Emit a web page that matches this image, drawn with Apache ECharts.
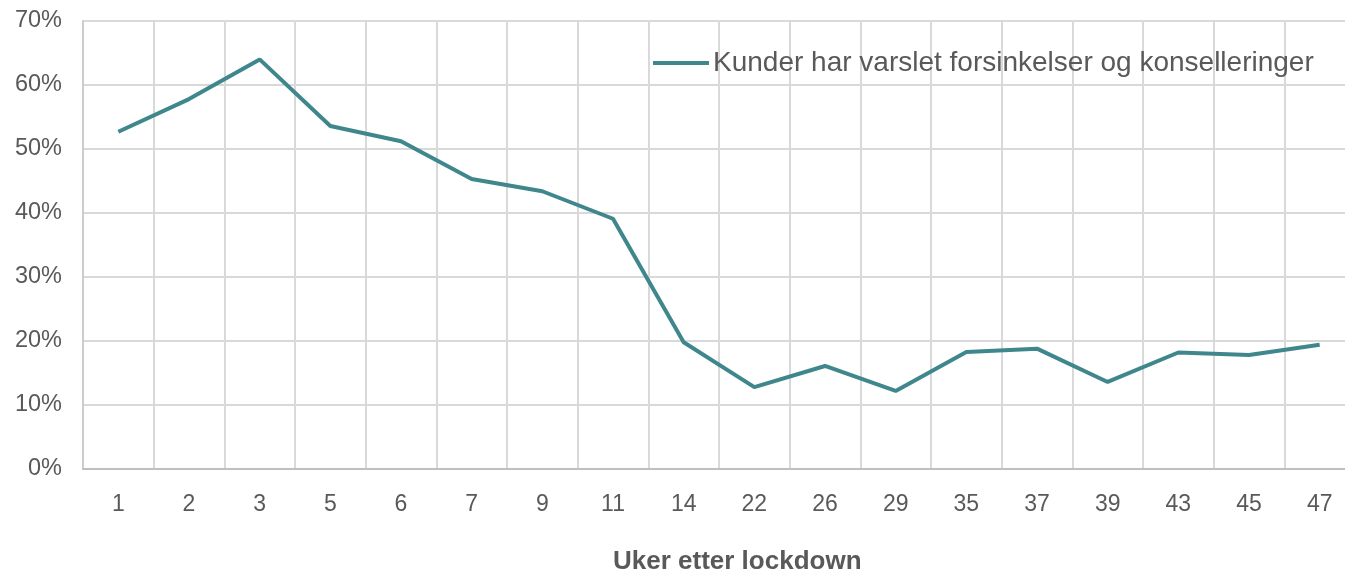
<!DOCTYPE html>
<html>
<head>
<meta charset="utf-8">
<title>Kunder har varslet forsinkelser</title>
<script src="https://cdn.jsdelivr.net/npm/echarts@6/dist/echarts.min.js"></script>
<style>
    html, body { margin: 0; padding: 0; background: #fff; overflow: hidden; }
    #chart { width: 1356px; height: 572px; }
</style>
</head>
<body>
<div id="chart"></div>
<script>
    // uker etter lockdown
    var weeks = ['1', '2', '3', '5', '6', '7', '9', '11', '14', '22', '26', '29', '35', '37', '39', '43', '45', '47'];
    // andel i prosent
    var varslet = [52.7, 57.8, 64.0, 53.6, 51.2, 45.3, 43.4, 39.1, 19.8, 12.8, 16.1, 12.2, 18.3, 18.8, 13.6, 18.2, 17.8, 19.4];
    var seriesName = 'Kunder har varslet forsinkelser og konselleringer';
    var axisTitle = 'Uker etter lockdown';

    var chart = echarts.init(document.getElementById('chart'));
    var font = 'Liberation Sans, Arial, sans-serif';

    var option = {
        animation: false,
        textStyle: { fontFamily: font },
        grid: {
            left: 83,
            right: 1,
            top: 21,
            bottom: 103
        },
        legend: {
            data: [seriesName],
            left: 648,
            top: 44,
            itemWidth: 56,
            itemHeight: 4,
            itemGap: 4,
            icon: 'rect',
            textStyle: { fontSize: 28, color: '#595959', fontFamily: font, padding: [0, 0, 0, -1] }
        },
        graphic: [{
            type: 'text',
            left: 613,
            top: 549,
            style: {
                text: axisTitle,
                fontSize: 26,
                fontWeight: 'bold',
                fill: '#595959',
                fontFamily: font
            }
        }],
        xAxis: {
            type: 'category',
            data: weeks,
            boundaryGap: true,
            axisLine: { lineStyle: { color: '#bfbfbf', width: 2 } },
            axisTick: { show: false },
            axisLabel: { fontSize: 23, color: '#595959', margin: 24 },
            splitLine: { show: true, lineStyle: { color: '#d9d9d9', width: 2 } }
        },
        yAxis: {
            type: 'value',
            min: 0,
            max: 70,
            interval: 10,
            axisLine: { show: true, lineStyle: { color: '#cccccc', width: 2 } },
            axisTick: { show: false },
            axisLabel: {
                fontSize: 23.5,
                color: '#595959',
                margin: 21,
                padding: [4, 0, 0, 0],
                formatter: '{value}%'
            },
            splitLine: { lineStyle: { color: '#d9d9d9', width: 2 } }
        },
        series: [{
            name: seriesName,
            type: 'line',
            data: varslet,
            symbol: 'none',
            lineStyle: { color: '#3f878c', width: 4 },
            itemStyle: { color: '#3f878c' }
        }]
    };
    chart.setOption(option);
</script>
</body>
</html>
